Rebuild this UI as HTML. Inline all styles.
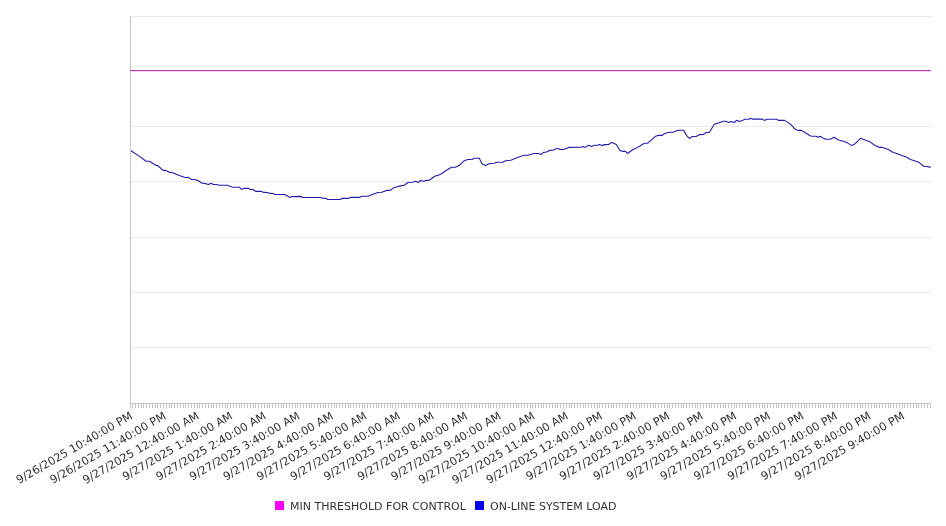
<!DOCTYPE html><html><head><meta charset="utf-8"><style>html,body{margin:0;padding:0;background:#fff;width:946px;height:526px;overflow:hidden}svg{display:block}text{font-family:"DejaVu Sans","Liberation Sans",sans-serif}</style></head><body>
<svg width="946" height="526" viewBox="0 0 946 526">
<path d="M130.0 16.5H932.0M130.0 71.5H932.0M130.0 126.5H932.0M130.0 181.5H932.0M130.0 237.5H932.0M130.0 292.5H932.0M130.0 347.5H932.0" stroke="#ebebeb" stroke-width="1" fill="none"/>
<path d="M130.5 403.0v5M132.5 403.0v5M135.5 403.0v5M138.5 403.0v5M141.5 403.0v5M143.5 403.0v5M146.5 403.0v5M149.5 403.0v5M152.5 403.0v5M155.5 403.0v5M157.5 403.0v5M160.5 403.0v5M163.5 403.0v5M166.5 403.0v5M169.5 403.0v5M171.5 403.0v5M174.5 403.0v5M177.5 403.0v5M180.5 403.0v5M183.5 403.0v5M185.5 403.0v5M188.5 403.0v5M191.5 403.0v5M194.5 403.0v5M197.5 403.0v5M199.5 403.0v5M202.5 403.0v5M205.5 403.0v5M208.5 403.0v5M211.5 403.0v5M213.5 403.0v5M216.5 403.0v5M219.5 403.0v5M222.5 403.0v5M225.5 403.0v5M227.5 403.0v5M230.5 403.0v5M233.5 403.0v5M236.5 403.0v5M239.5 403.0v5M241.5 403.0v5M244.5 403.0v5M247.5 403.0v5M250.5 403.0v5M253.5 403.0v5M255.5 403.0v5M258.5 403.0v5M261.5 403.0v5M264.5 403.0v5M267.5 403.0v5M269.5 403.0v5M272.5 403.0v5M275.5 403.0v5M278.5 403.0v5M281.5 403.0v5M283.5 403.0v5M286.5 403.0v5M289.5 403.0v5M292.5 403.0v5M295.5 403.0v5M297.5 403.0v5M300.5 403.0v5M303.5 403.0v5M306.5 403.0v5M309.5 403.0v5M311.5 403.0v5M314.5 403.0v5M317.5 403.0v5M320.5 403.0v5M323.5 403.0v5M325.5 403.0v5M328.5 403.0v5M331.5 403.0v5M334.5 403.0v5M336.5 403.0v5M339.5 403.0v5M342.5 403.0v5M345.5 403.0v5M348.5 403.0v5M350.5 403.0v5M353.5 403.0v5M356.5 403.0v5M359.5 403.0v5M362.5 403.0v5M364.5 403.0v5M367.5 403.0v5M370.5 403.0v5M373.5 403.0v5M376.5 403.0v5M378.5 403.0v5M381.5 403.0v5M384.5 403.0v5M387.5 403.0v5M390.5 403.0v5M392.5 403.0v5M395.5 403.0v5M398.5 403.0v5M401.5 403.0v5M404.5 403.0v5M406.5 403.0v5M409.5 403.0v5M412.5 403.0v5M415.5 403.0v5M418.5 403.0v5M420.5 403.0v5M423.5 403.0v5M426.5 403.0v5M429.5 403.0v5M432.5 403.0v5M434.5 403.0v5M437.5 403.0v5M440.5 403.0v5M443.5 403.0v5M446.5 403.0v5M448.5 403.0v5M451.5 403.0v5M454.5 403.0v5M457.5 403.0v5M460.5 403.0v5M462.5 403.0v5M465.5 403.0v5M468.5 403.0v5M471.5 403.0v5M474.5 403.0v5M476.5 403.0v5M479.5 403.0v5M482.5 403.0v5M485.5 403.0v5M488.5 403.0v5M490.5 403.0v5M493.5 403.0v5M496.5 403.0v5M499.5 403.0v5M502.5 403.0v5M504.5 403.0v5M507.5 403.0v5M510.5 403.0v5M513.5 403.0v5M516.5 403.0v5M518.5 403.0v5M521.5 403.0v5M524.5 403.0v5M527.5 403.0v5M530.5 403.0v5M532.5 403.0v5M535.5 403.0v5M538.5 403.0v5M541.5 403.0v5M543.5 403.0v5M546.5 403.0v5M549.5 403.0v5M552.5 403.0v5M555.5 403.0v5M557.5 403.0v5M560.5 403.0v5M563.5 403.0v5M566.5 403.0v5M569.5 403.0v5M571.5 403.0v5M574.5 403.0v5M577.5 403.0v5M580.5 403.0v5M583.5 403.0v5M585.5 403.0v5M588.5 403.0v5M591.5 403.0v5M594.5 403.0v5M597.5 403.0v5M599.5 403.0v5M602.5 403.0v5M605.5 403.0v5M608.5 403.0v5M611.5 403.0v5M613.5 403.0v5M616.5 403.0v5M619.5 403.0v5M622.5 403.0v5M625.5 403.0v5M627.5 403.0v5M630.5 403.0v5M633.5 403.0v5M636.5 403.0v5M639.5 403.0v5M641.5 403.0v5M644.5 403.0v5M647.5 403.0v5M650.5 403.0v5M653.5 403.0v5M655.5 403.0v5M658.5 403.0v5M661.5 403.0v5M664.5 403.0v5M667.5 403.0v5M669.5 403.0v5M672.5 403.0v5M675.5 403.0v5M678.5 403.0v5M681.5 403.0v5M683.5 403.0v5M686.5 403.0v5M689.5 403.0v5M692.5 403.0v5M695.5 403.0v5M697.5 403.0v5M700.5 403.0v5M703.5 403.0v5M706.5 403.0v5M709.5 403.0v5M711.5 403.0v5M714.5 403.0v5M717.5 403.0v5M720.5 403.0v5M723.5 403.0v5M725.5 403.0v5M728.5 403.0v5M731.5 403.0v5M734.5 403.0v5M736.5 403.0v5M739.5 403.0v5M742.5 403.0v5M745.5 403.0v5M748.5 403.0v5M750.5 403.0v5M753.5 403.0v5M756.5 403.0v5M759.5 403.0v5M762.5 403.0v5M764.5 403.0v5M767.5 403.0v5M770.5 403.0v5M773.5 403.0v5M776.5 403.0v5M778.5 403.0v5M781.5 403.0v5M784.5 403.0v5M787.5 403.0v5M790.5 403.0v5M792.5 403.0v5M795.5 403.0v5M798.5 403.0v5M801.5 403.0v5M804.5 403.0v5M806.5 403.0v5M809.5 403.0v5M812.5 403.0v5M815.5 403.0v5M818.5 403.0v5M820.5 403.0v5M823.5 403.0v5M826.5 403.0v5M829.5 403.0v5M832.5 403.0v5M834.5 403.0v5M837.5 403.0v5M840.5 403.0v5M843.5 403.0v5M846.5 403.0v5M848.5 403.0v5M851.5 403.0v5M854.5 403.0v5M857.5 403.0v5M860.5 403.0v5M862.5 403.0v5M865.5 403.0v5M868.5 403.0v5M871.5 403.0v5M874.5 403.0v5M876.5 403.0v5M879.5 403.0v5M882.5 403.0v5M885.5 403.0v5M888.5 403.0v5M890.5 403.0v5M893.5 403.0v5M896.5 403.0v5M899.5 403.0v5M902.5 403.0v5M904.5 403.0v5M907.5 403.0v5M910.5 403.0v5M913.5 403.0v5M916.5 403.0v5M918.5 403.0v5M921.5 403.0v5M924.5 403.0v5M927.5 403.0v5M930.5 403.0v5" stroke="#c4c4c4" stroke-width="1" fill="none"/>
<path d="M130.5 16.0V404.0M130.0 403.5H931.0" stroke="#c9c9c9" stroke-width="1" fill="none"/>
<path d="M131.0 71.5H931.0" stroke="#ffcdff" stroke-width="1" fill="none"/>
<path d="M130.0 70.5H931.0" stroke="#a844a8" stroke-width="1" fill="none"/>
<path d="M131.0 150.8 L140.0 156.6 L146.0 161.3 L149.4 161.3 L156.3 165.5 L157.5 165.5 L163.1 170.4 L165.7 170.4 L170.0 172.4 L172.5 172.8 L179.4 175.4 L184.9 177.5 L188.5 177.4 L191.3 179.5 L194.8 179.5 L198.3 180.8 L202.1 183.3 L205.3 183.4 L208.5 184.6 L211.0 183.3 L213.5 184.5 L216.7 184.5 L219.2 185.3 L227.5 185.3 L232.6 187.2 L239.5 187.2 L241.4 189.3 L244.6 188.4 L248.2 188.2 L250.1 189.4 L253.3 189.5 L255.5 191.4 L261.6 191.4 L263.8 192.4 L267.9 192.5 L269.8 193.4 L273.0 193.5 L274.9 194.5 L284.4 194.5 L286.9 195.5 L289.5 197.4 L292.0 196.6 L301.0 196.4 L302.9 197.5 L320.4 197.5 L322.9 198.3 L326.1 198.4 L328.0 199.5 L340.0 199.5 L341.9 198.4 L348.9 198.4 L350.2 197.4 L359.5 197.4 L361.7 196.3 L367.8 196.3 L370.9 195.0 L377.9 192.5 L381.7 192.2 L386.8 190.4 L390.3 190.4 L393.1 188.1 L398.2 186.4 L404.2 185.2 L408.0 182.5 L412.6 182.3 L415.3 181.2 L418.3 182.5 L420.6 180.4 L423.3 181.3 L426.7 180.4 L429.3 180.3 L434.7 176.2 L438.5 175.1 L440.7 174.2 L446.1 170.5 L451.4 167.3 L455.2 167.3 L458.2 166.0 L460.0 164.7 L464.4 160.7 L467.6 159.5 L472.0 159.5 L474.6 158.3 L479.3 158.3 L482.2 164.0 L485.4 165.4 L489.8 163.5 L494.2 163.3 L496.8 162.2 L502.5 162.2 L505.7 160.7 L510.7 160.2 L513.3 159.3 L518.8 156.9 L523.9 155.3 L528.3 155.2 L530.9 154.3 L534.0 153.5 L538.5 153.5 L541.0 154.5 L543.5 152.4 L546.7 152.0 L549.6 150.4 L553.0 150.2 L557.5 148.3 L560.0 149.5 L563.8 149.5 L568.9 147.4 L581.4 147.2 L583.3 146.4 L585.2 147.4 L588.4 145.3 L591.6 146.5 L594.4 145.3 L597.9 145.2 L599.5 144.5 L602.3 145.4 L604.9 144.6 L608.7 144.5 L611.5 142.4 L613.8 143.3 L616.3 144.5 L619.8 150.3 L622.6 151.4 L625.5 151.4 L627.4 153.5 L632.6 149.7 L636.4 148.1 L644.4 143.2 L647.8 143.2 L655.4 136.3 L658.5 135.4 L662.3 135.4 L664.5 133.5 L669.1 132.3 L672.9 132.2 L678.2 130.3 L683.6 130.3 L686.7 135.6 L689.3 138.5 L692.3 136.5 L696.0 136.5 L700.0 134.6 L703.3 134.5 L706.3 132.5 L709.3 132.5 L714.3 124.3 L717.3 123.3 L719.9 122.6 L723.2 121.3 L725.9 121.3 L728.6 122.5 L731.2 121.4 L734.2 122.5 L736.6 120.3 L739.3 121.5 L742.3 120.4 L745.0 119.3 L749.0 119.3 L750.6 118.3 L752.6 119.1 L762.3 119.1 L764.3 120.4 L767.0 119.3 L776.6 119.3 L778.6 120.4 L784.6 120.4 L788.2 122.6 L791.6 125.3 L795.3 129.3 L798.3 130.4 L801.3 130.4 L805.3 132.8 L810.0 135.8 L812.0 136.3 L816.0 136.3 L818.3 137.3 L820.3 136.3 L823.9 138.6 L826.6 139.3 L829.9 139.3 L834.2 137.3 L837.9 139.8 L843.2 141.3 L846.6 142.4 L851.7 145.6 L854.3 144.3 L860.6 138.3 L863.6 139.6 L870.3 142.1 L874.3 145.0 L879.3 147.4 L882.6 147.4 L888.2 149.6 L893.3 152.5 L896.7 153.6 L900.0 154.8 L906.6 157.2 L910.6 159.4 L916.6 161.4 L919.3 162.6 L924.0 166.5 L927.3 166.5 L930.6 167.4" stroke="#1e1eaa" stroke-width="1.1" fill="none" stroke-linejoin="round"/>
<text x="133.30" y="418.20" font-size="11.25" fill="#333" text-anchor="end" transform="rotate(-30 133.30 418.20)">9/26/2025 10:40:00 PM</text>
<text x="166.87" y="418.20" font-size="11.25" fill="#333" text-anchor="end" transform="rotate(-30 166.87 418.20)">9/26/2025 11:40:00 PM</text>
<text x="199.83" y="418.20" font-size="11.2" fill="#333" text-anchor="end" transform="rotate(-30 199.83 418.20)">9/27/2025 12:40:00 AM</text>
<text x="233.40" y="418.20" font-size="11.2" fill="#333" text-anchor="end" transform="rotate(-30 233.40 418.20)">9/27/2025 1:40:00 AM</text>
<text x="266.97" y="418.20" font-size="11.2" fill="#333" text-anchor="end" transform="rotate(-30 266.97 418.20)">9/27/2025 2:40:00 AM</text>
<text x="300.53" y="418.20" font-size="11.2" fill="#333" text-anchor="end" transform="rotate(-30 300.53 418.20)">9/27/2025 3:40:00 AM</text>
<text x="334.10" y="418.20" font-size="11.2" fill="#333" text-anchor="end" transform="rotate(-30 334.10 418.20)">9/27/2025 4:40:00 AM</text>
<text x="367.67" y="418.20" font-size="11.2" fill="#333" text-anchor="end" transform="rotate(-30 367.67 418.20)">9/27/2025 5:40:00 AM</text>
<text x="401.23" y="418.20" font-size="11.2" fill="#333" text-anchor="end" transform="rotate(-30 401.23 418.20)">9/27/2025 6:40:00 AM</text>
<text x="434.80" y="418.20" font-size="11.2" fill="#333" text-anchor="end" transform="rotate(-30 434.80 418.20)">9/27/2025 7:40:00 AM</text>
<text x="468.36" y="418.20" font-size="11.2" fill="#333" text-anchor="end" transform="rotate(-30 468.36 418.20)">9/27/2025 8:40:00 AM</text>
<text x="501.93" y="418.20" font-size="11.2" fill="#333" text-anchor="end" transform="rotate(-30 501.93 418.20)">9/27/2025 9:40:00 AM</text>
<text x="535.50" y="418.20" font-size="11.2" fill="#333" text-anchor="end" transform="rotate(-30 535.50 418.20)">9/27/2025 10:40:00 AM</text>
<text x="569.06" y="418.20" font-size="11.2" fill="#333" text-anchor="end" transform="rotate(-30 569.06 418.20)">9/27/2025 11:40:00 AM</text>
<text x="603.23" y="418.20" font-size="11.25" fill="#333" text-anchor="end" transform="rotate(-30 603.23 418.20)">9/27/2025 12:40:00 PM</text>
<text x="636.80" y="418.20" font-size="11.25" fill="#333" text-anchor="end" transform="rotate(-30 636.80 418.20)">9/27/2025 1:40:00 PM</text>
<text x="670.36" y="418.20" font-size="11.25" fill="#333" text-anchor="end" transform="rotate(-30 670.36 418.20)">9/27/2025 2:40:00 PM</text>
<text x="703.93" y="418.20" font-size="11.25" fill="#333" text-anchor="end" transform="rotate(-30 703.93 418.20)">9/27/2025 3:40:00 PM</text>
<text x="737.50" y="418.20" font-size="11.25" fill="#333" text-anchor="end" transform="rotate(-30 737.50 418.20)">9/27/2025 4:40:00 PM</text>
<text x="771.06" y="418.20" font-size="11.25" fill="#333" text-anchor="end" transform="rotate(-30 771.06 418.20)">9/27/2025 5:40:00 PM</text>
<text x="804.63" y="418.20" font-size="11.25" fill="#333" text-anchor="end" transform="rotate(-30 804.63 418.20)">9/27/2025 6:40:00 PM</text>
<text x="838.20" y="418.20" font-size="11.25" fill="#333" text-anchor="end" transform="rotate(-30 838.20 418.20)">9/27/2025 7:40:00 PM</text>
<text x="871.76" y="418.20" font-size="11.25" fill="#333" text-anchor="end" transform="rotate(-30 871.76 418.20)">9/27/2025 8:40:00 PM</text>
<text x="905.33" y="418.20" font-size="11.25" fill="#333" text-anchor="end" transform="rotate(-30 905.33 418.20)">9/27/2025 9:40:00 PM</text>
<rect x="275" y="501" width="9" height="9" fill="#ff00ff"/>
<text x="290" y="510" font-size="11" fill="#333">MIN THRESHOLD FOR CONTROL</text>
<rect x="475" y="501" width="9" height="9" fill="#0000ee"/>
<text x="490" y="510" font-size="11" fill="#333">ON-LINE SYSTEM LOAD</text>
</svg></body></html>
